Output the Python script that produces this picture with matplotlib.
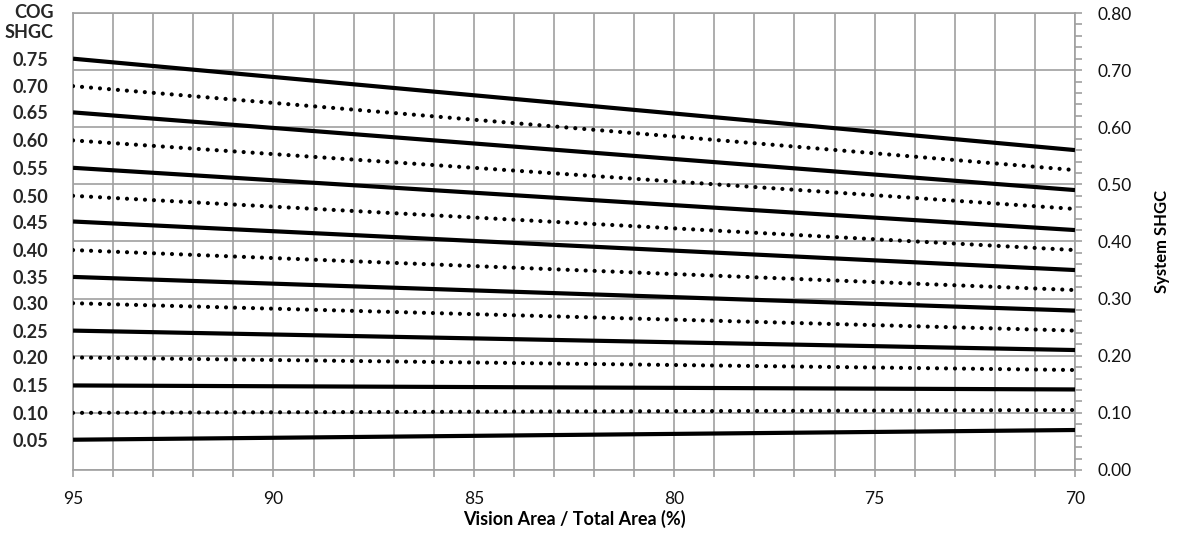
import matplotlib
matplotlib.use('Agg')
import matplotlib.pyplot as plt
from matplotlib.ticker import MultipleLocator

# COG SHGC label for each curve (top to bottom)
cog_shgc = [0.75, 0.70, 0.65, 0.60, 0.55, 0.50, 0.45, 0.40,
            0.35, 0.30, 0.25, 0.20, 0.15, 0.10, 0.05]
solid = [True, False] * 7 + [True]

# vision area / total area (%)
vision_area = [95, 70]

# system SHGC read at 95 % and at 70 %
sys_at_95 = [0.720, 0.672, 0.626, 0.577, 0.529, 0.480, 0.435, 0.385,
             0.338, 0.292, 0.244, 0.197, 0.148, 0.100, 0.053]
sys_at_70 = [0.560, 0.525, 0.490, 0.457, 0.420, 0.385, 0.350, 0.315,
             0.279, 0.244, 0.210, 0.175, 0.141, 0.105, 0.070]

plt.rcParams['font.family'] = ['Lato', 'DejaVu Sans']
grid_color = '#a0a0a0'

fig = plt.figure(figsize=(11.78, 5.35), dpi=100)
ax = fig.add_axes([0.062, 0.1215, 0.8506, 0.8542])
# twin used only for the COG labels on the left
axl = ax.twinx()

for v95, v70, is_solid in zip(sys_at_95, sys_at_70, solid):
    if is_solid:
        ax.plot(vision_area, [v95, v70], color='black', lw=3.0,
                solid_capstyle='butt', zorder=3)
    else:
        ax.plot(vision_area, [v95, v70], color='black', lw=3.0,
                linestyle=(0, (0.01, 2.15)), dash_capstyle='round', zorder=3)

ax.set_xlim(95, 70)
ax.set_ylim(0, 0.8)

# right axis (system SHGC)
ax.yaxis.tick_right()
ax.yaxis.set_label_position('right')
ax.yaxis.set_major_locator(MultipleLocator(0.1))
ax.yaxis.set_minor_locator(MultipleLocator(0.02))
ax.yaxis.set_major_formatter(plt.FuncFormatter(lambda v, p: f'{v:.2f}'))
ax.tick_params(axis='y', which='major', length=5, width=1.2, color=grid_color,
               pad=11, labelsize=12.5, labelcolor='#111111')
ax.tick_params(axis='y', which='minor', length=5, width=1.2, color=grid_color)
ax.set_ylabel('System SHGC', fontsize=12, fontweight='bold', labelpad=16)

# bottom axis
ax.xaxis.set_major_locator(MultipleLocator(5))
ax.xaxis.set_minor_locator(MultipleLocator(1))
ax.xaxis.set_major_formatter(plt.FuncFormatter(lambda v, p: f'{v:.0f}'))
ax.tick_params(axis='x', which='both', length=5, width=1.2, color=grid_color,
               pad=10, labelsize=12.5, labelcolor='#111111')
ax.set_xlabel('Vision Area / Total Area (%)', fontsize=13, fontweight='bold',
              labelpad=2)

ax.grid(True, which='major', axis='y', color=grid_color, lw=1.2)
ax.grid(True, which='both', axis='x', color=grid_color, lw=1.2)
ax.set_axisbelow(True)
for side in ax.spines.values():
    side.set_color(grid_color)
    side.set_linewidth(1.2)

# left labels (COG SHGC) at the start of each curve
axl.set_ylim(ax.get_ylim())
axl.yaxis.tick_left()
axl.set_yticks(sys_at_95)
axl.set_yticklabels([f'{c:.2f}' for c in cog_shgc])
axl.tick_params(axis='y', which='both', left=True, right=False, length=0,
                pad=18, labelsize=13, labelcolor='#262626',
                labelleft=True, labelright=False)
axl.yaxis.set_minor_locator(plt.NullLocator())
for lbl in axl.get_yticklabels():
    lbl.set_fontweight('bold')
for side in axl.spines.values():
    side.set_visible(False)

fig.text(54 / 1178, 1 - 12 / 535, 'COG', ha='right', va='center', fontsize=13,
         fontweight='bold', color='#262626')
fig.text(54 / 1178, 1 - 33 / 535, 'SHGC', ha='right', va='center', fontsize=13,
         fontweight='bold', color='#262626')

fig.savefig('out.png', dpi=100)
